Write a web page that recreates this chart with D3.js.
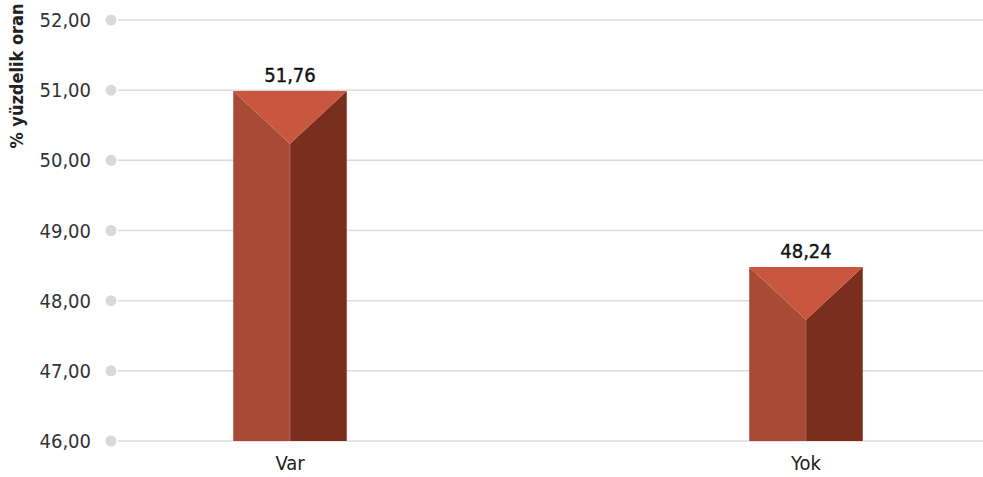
<!DOCTYPE html>
<html>
<head>
<meta charset="utf-8">
<script src="https://cdn.jsdelivr.net/npm/d3@7"></script>
<style>
  body { margin: 0; background: #fff; }
  text { font-family: "DejaVu Sans Condensed", "Liberation Sans Narrow", "Roboto", sans-serif; }
</style>
</head>
<body>
<div id="chart"></div>
<script>
    const categories = ['Var', 'Yok'];
    const values = [51.76, 48.24];
    const tickValues = [46, 47, 48, 49, 50, 51, 52];
    const axisTitle = '% yüzdelik oran';

    function create_pyramid_bars(targetElementId) {
        const W = 983, H = 477;
        const margin = { top: 20, right: 0, bottom: 36, left: 118 };
        const height = H - margin.top - margin.bottom;

        const svg = d3.select(`#${targetElementId}`).append("svg")
            .attr("width", W)
            .attr("height", H);

        // axis scale (gridlines + labels)
        const y = d3.scaleLinear()
            .domain([46, 52])
            .range([margin.top + height, margin.top]);

        // bars in the original are drawn on a hidden axis of their own
        const yBar = d3.scaleLinear()
            .domain([44.76, 53.18])
            .range([margin.top + height, margin.top]);

        const x = d3.scaleBand()
            .domain(categories)
            .range([32, 1064]);
        const bw = x.bandwidth() * 0.22;

        // grid
        const grid = svg.append("g");
        grid.selectAll("line")
            .data(tickValues)
            .enter()
            .append("line")
                .attr("x1", margin.left)
                .attr("x2", W)
                .attr("y1", d => y(d))
                .attr("y2", d => y(d))
                .attr("stroke", "#dcdcdc")
                .attr("stroke-width", 1.5);
        grid.selectAll("circle")
            .data(tickValues)
            .enter()
            .append("circle")
                .attr("cx", 111)
                .attr("cy", d => y(d))
                .attr("r", 5.5)
                .attr("fill", "#d9d9d9");
        grid.selectAll("text")
            .data(tickValues)
            .enter()
            .append("text")
                .attr("x", 91)
                .attr("y", d => y(d))
                .attr("dy", "0.35em")
                .attr("text-anchor", "end")
                .attr("fill", "#333")
                .style("font-size", "20px")
                .text(d => d3.format(".2f")(d).replace('.', ','));

        // axis title
        svg.append("text")
            .attr("transform", `translate(23,76) rotate(-90)`)
            .attr("text-anchor", "middle")
            .attr("fill", "#222")
            .style("font-size", "18px")
            .style("font-weight", "bold")
            .text(axisTitle);

        // pyramid-style bars
        const base = yBar.range()[0];
        const bars = svg.selectAll(".bar")
            .data(categories.map((c, i) => ({ c, v: values[i] })))
            .enter()
            .append("g")
                .attr("class", "bar");

        bars.each(function(d) {
            const g = d3.select(this);
            const x0 = x(d.c) + x.bandwidth() / 2 - bw / 2;
            const x1 = x0 + bw;
            const xm = (x0 + x1) / 2;
            const top = yBar(d.v);
            const depth = bw * 0.465;
            g.append("polygon")
                .attr("points", [[x0, top], [xm, top + depth], [xm, base], [x0, base]].join(" "))
                .attr("fill", "#a84a35");
            g.append("polygon")
                .attr("points", [[x1, top], [xm, top + depth], [xm, base], [x1, base]].join(" "))
                .attr("fill", "#7a2e1d");
            g.append("polygon")
                .attr("points", [[x0, top], [x1, top], [xm, top + depth]].join(" "))
                .attr("fill", "#c9563f");
            g.append("line")
                .attr("x1", xm).attr("x2", xm)
                .attr("y1", top + depth).attr("y2", base)
                .attr("stroke", "rgba(255,255,255,0.2)")
                .attr("stroke-width", 1);
            g.append("text")
                .attr("x", xm)
                .attr("y", top - 9)
                .attr("text-anchor", "middle")
                .attr("fill", "#111")
                .attr("stroke", "#111")
                .attr("stroke-width", 0.4)
                .style("font-size", "20px")
                .text(d3.format(".2f")(d.v).replace('.', ','));
        });

        // category labels
        svg.selectAll(".cat")
            .data(categories)
            .enter()
            .append("text")
                .attr("class", "cat")
                .attr("x", d => x(d) + x.bandwidth() / 2)
                .attr("y", 470)
                .attr("text-anchor", "middle")
                .attr("fill", "#222")
                .style("font-size", "20px")
                .text(d => d);
    }

    create_pyramid_bars("chart");
</script>
</body>
</html>
